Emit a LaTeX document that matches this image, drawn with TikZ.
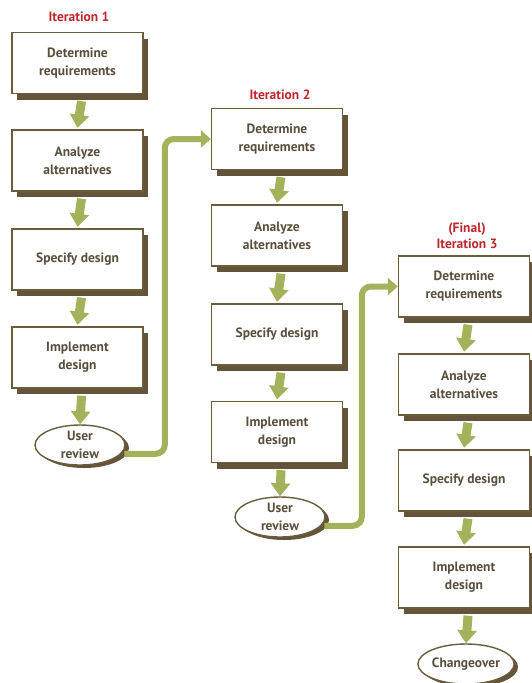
\documentclass[tikz,border=0pt]{standalone}
\usepackage{fontspec}
\setmainfont{PT Sans}
\usetikzlibrary{arrows.meta,shapes.geometric,shadows}
\definecolor{boxline}{HTML}{6B5C3B}
\definecolor{shadowc}{HTML}{64553A}
\definecolor{txt}{HTML}{5A4E3C}
\definecolor{arrowg}{HTML}{A4B35B}
\definecolor{titred}{HTML}{C0262D}
\begin{document}
\begin{tikzpicture}[x=1pt,y=-1pt,
  lbl/.style={text=txt, font=\bfseries\fontsize{13.5}{18}\selectfont, align=center},
  stepbox/.style={lbl, draw=boxline, line width=1.4pt, fill=white,
    minimum width=131pt, minimum height=61pt, inner sep=0pt,
    general shadow={fill=shadowc, shadow xshift=5pt, shadow yshift=-6pt}},
  endbox/.style={lbl, ellipse, draw=boxline, line width=1.4pt, fill=white,
    minimum width=90pt, minimum height=40pt, inner sep=0pt,
    general shadow={fill=shadowc, shadow xshift=4pt, shadow yshift=-3pt}},
  title/.style={text=titred, font=\bfseries\fontsize{13.5}{15.5}\selectfont, align=center},
  blockarr/.style={draw=arrowg, line width=9pt, -{Triangle[length=13pt,width=19pt]}},
  flow/.style={draw=arrowg, line width=6pt, rounded corners=9pt, -{Triangle[length=10pt,width=17pt]}}
]
\useasboundingbox[fill=white] (0,0) rectangle (531,683);

% titles
\node[title] (t1) at (79,17) {Iteration 1};
\node[title] (t2) at (280,95) {Iteration 2};
\node[title] (t3) at (467,236) {(Final)\\Iteration 3};

% column 1
\node[stepbox] (a1) at (77.5,63) {Determine\\requirements};
\node[stepbox] (a2) at (77.5,160.5) {Analyze\\alternatives};
\node[stepbox] (a3) at (77.5,259.5) {Specify design};
\node[stepbox] (a4) at (77.5,357.5) {Implement\\design};
\node[endbox] (a5) at (80,445) {User\\review};

% column 2
\node[stepbox] (b1) at (277,139) {Determine\\requirements};
\node[stepbox] (b2) at (277,235.5) {Analyze\\alternatives};
\node[stepbox] (b3) at (277,334.5) {Specify design};
\node[stepbox] (b4) at (277,432) {Implement\\design};
\node[endbox] (b5) at (280,517) {User\\review};

% column 3
\node[stepbox] (c1) at (464,286.5) {Determine\\requirements};
\node[stepbox] (c2) at (464,384.5) {Analyze\\alternatives};
\node[stepbox] (c3) at (464,480.5) {Specify design};
\node[stepbox] (c4) at (464,577.5) {Implement\\design};
\node[endbox] (c5) at (466,664) {Changeover};

% block arrows
\foreach \p/\q in {a1/a2,a2/a3,a3/a4,b1/b2,b2/b3,b3/b4,c1/c2,c2/c3,c3/c4}{
  \draw[blockarr] ([xshift=4pt,yshift=-7pt]\p.south) -- ([xshift=0pt,yshift=1.5pt]\q.north);
}
\draw[blockarr] ([xshift=4pt,yshift=-7pt]a4.south) -- ([xshift=0pt,yshift=0pt]a5.north);
\draw[blockarr] ([xshift=4pt,yshift=-7pt]b4.south) -- ([xshift=0pt,yshift=0pt]b5.north);
\draw[blockarr] ([xshift=4pt,yshift=-7pt]c4.south) -- ([xshift=0pt,yshift=0pt]c5.north);

% iteration connectors
\draw[flow] ([xshift=3pt]a5.-12) -| ([xshift=-46pt]b1.west) -- (b1.west);
\draw[flow] ([xshift=3pt]b5.-12) -| ([xshift=-36pt]c1.west) -- (c1.west);
\end{tikzpicture}
\end{document}
